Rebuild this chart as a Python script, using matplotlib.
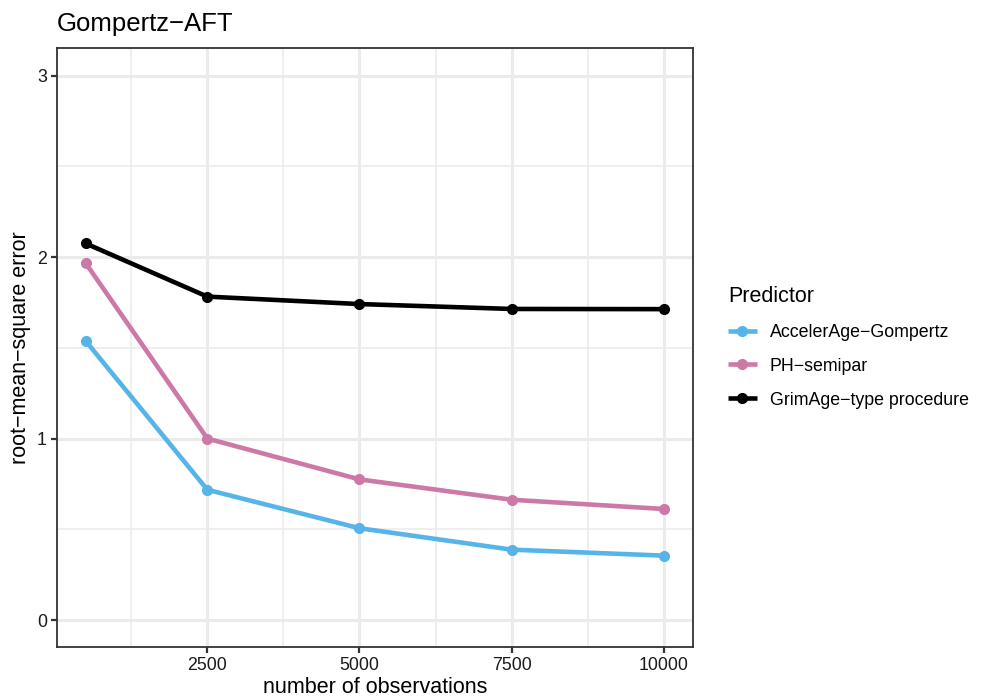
import matplotlib
matplotlib.use("Agg")
import matplotlib.pyplot as plt
import numpy as np

plt.rcParams['font.family'] = ['Liberation Sans', 'DejaVu Sans']

n_obs = [500, 2500, 5000, 7500, 10000]
rmse_accel = [1.538, 0.718, 0.506, 0.388, 0.355]
rmse_ph = [1.967, 1.0, 0.775, 0.663, 0.612]
rmse_grim = [2.075, 1.782, 1.741, 1.714, 1.713]
series_names = ['AccelerAge\u2212Gompertz', 'PH\u2212semipar', 'GrimAge\u2212type procedure']
series_colors = ['#56B4E9', '#CC79A7', '#000000']

x_ticks = [2500, 5000, 7500, 10000]
x_minor = [1250, 3750, 6250, 8750]
y_ticks = [0, 1, 2, 3]
y_minor = [0.5, 1.5, 2.5]

fig = plt.figure(figsize=(9.81, 6.97), dpi=100)
ax = fig.add_axes([0.0578, 0.0713, 0.6483, 0.8594])

for vals, name, col in zip([rmse_accel, rmse_ph, rmse_grim], series_names, series_colors):
    ax.plot(n_obs, vals, color=col, lw=3.3, marker='o', ms=7, label=name,
            solid_capstyle='butt', zorder=3)

ax.set_xlim(25, 10475)
ax.set_ylim(-0.15, 3.15)
ax.set_xticks(x_ticks)
ax.set_xticks(x_minor, minor=True)
ax.set_yticks(y_ticks)
ax.set_yticks(y_minor, minor=True)
ax.set_xticklabels([str(v) for v in x_ticks])
ax.set_yticklabels([str(v) for v in y_ticks])
ax.grid(which='major', color='#EBEBEB', lw=2.2, zorder=0)
ax.grid(which='minor', color='#EBEBEB', lw=1.1, zorder=0)
ax.set_axisbelow(True)
ax.tick_params(which='major', length=4, width=1.6, color='#333333',
               labelsize=12.8, labelcolor='#1a1a1a', pad=3)
ax.tick_params(which='minor', length=0)
for s in ax.spines.values():
    s.set_color('#333333')
    s.set_linewidth(1.3)

ax.set_xlabel('number of observations', fontsize=15.5, labelpad=2)
ax.set_ylabel('root\u2212mean\u2212square error', fontsize=15.5, labelpad=4)
fig.text(0.0578, 0.955, 'Gompertz\u2212AFT', fontsize=18.5, ha='left', va='baseline')

leg = ax.legend(title='Predictor', loc='upper left', bbox_to_anchor=(0.735, 0.600),
                bbox_transform=fig.transFigure, frameon=False, fontsize=12.8,
                title_fontsize=15.5, handlelength=1.6, handletextpad=0.75,
                labelspacing=0.95, borderaxespad=0)
leg._legend_box.align = 'left'

fig.savefig('out.png', dpi=100)
